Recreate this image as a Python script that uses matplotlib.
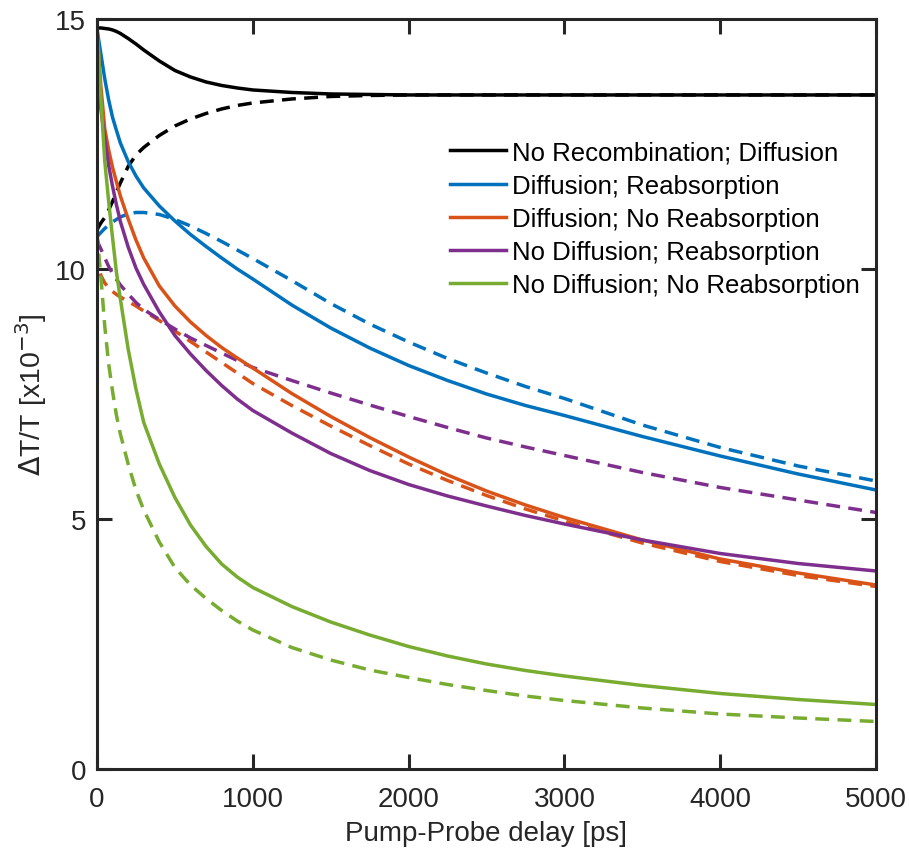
import matplotlib
matplotlib.use("Agg")
import matplotlib.pyplot as plt

plt.rcParams['font.family'] = ['Liberation Sans', 'DejaVu Sans']

# delay grid [ps]
t = [0, 10, 25, 50, 75, 100, 125, 150, 200, 250, 300, 400, 500, 600, 700, 800, 900, 1000,
     1250, 1500, 1750, 2000, 2250, 2500, 2750, 3000, 3500, 4000, 4500, 5000]

labels = ["No Recombination; Diffusion", "Diffusion; Reabsorption",
          "Diffusion; No Reabsorption", "No Diffusion; Reabsorption",
          "No Diffusion; No Reabsorption"]
colors = ["#000000", "#0072BD", "#D95319", "#7E2F8E", "#77AC30"]

# solid curves
black_solid = [14.82, 14.82, 14.82, 14.81, 14.8, 14.78, 14.75, 14.71, 14.61, 14.5, 14.38, 14.16,
               13.97, 13.84, 13.74, 13.67, 13.62, 13.58,
               13.53, 13.5, 13.49, 13.48, 13.48, 13.48, 13.48, 13.48, 13.48, 13.48, 13.48, 13.48]
blue_solid = [14.8, 14.6, 14.3, 13.8, 13.38, 13.03, 12.77, 12.52, 12.15, 11.86, 11.62, 11.26,
              10.96, 10.69, 10.45, 10.22, 10.0, 9.8,
              9.28, 8.82, 8.42, 8.07, 7.77, 7.5, 7.27, 7.07, 6.65, 6.26, 5.9, 5.58]
orange_solid = [14.8, 14.3, 13.65, 12.8, 12.38, 12.03, 11.74, 11.46, 11.0, 10.58, 10.22, 9.66,
                9.26, 8.94, 8.67, 8.43, 8.22, 8.02,
                7.51, 7.05, 6.63, 6.24, 5.88, 5.56, 5.28, 5.03, 4.58, 4.2, 3.92, 3.68]
purple_solid = [14.8, 14.1, 13.2, 12.6, 12.07, 11.65, 11.28, 10.95, 10.44, 10.02, 9.69, 9.14,
                8.67, 8.3, 7.97, 7.67, 7.4, 7.17,
                6.72, 6.31, 5.97, 5.69, 5.46, 5.26, 5.07, 4.9, 4.58, 4.31, 4.11, 3.96]
green_solid = [14.8, 14.35, 13.4, 12.15, 11.35, 10.62, 9.93, 9.4, 8.4, 7.6, 6.93, 6.1,
               5.43, 4.88, 4.45, 4.1, 3.84, 3.63,
               3.25, 2.94, 2.68, 2.45, 2.26, 2.1, 1.97, 1.86, 1.67, 1.51, 1.39, 1.29]

# dashed curves
black_dash = [10.78, 10.84, 10.92, 11.03, 11.18, 11.35, 11.54, 11.72, 12.05, 12.28, 12.43, 12.67,
              12.86, 13.0, 13.11, 13.2, 13.27, 13.32,
              13.4, 13.45, 13.47, 13.48, 13.48, 13.48, 13.48, 13.48, 13.48, 13.48, 13.48, 13.48]
blue_dash = [10.65, 10.68, 10.73, 10.81, 10.88, 10.94, 10.99, 11.04, 11.1, 11.13, 11.13, 11.09,
             10.99, 10.86, 10.71, 10.55, 10.38, 10.21,
             9.77, 9.31, 8.9, 8.54, 8.21, 7.92, 7.65, 7.41, 6.88, 6.43, 6.06, 5.76]
orange_dash = [10.35, 10.1, 9.87, 9.72, 9.62, 9.55, 9.49, 9.44, 9.35, 9.26, 9.16, 8.97,
               8.76, 8.55, 8.34, 8.13, 7.92, 7.71,
               7.27, 6.86, 6.47, 6.1, 5.77, 5.47, 5.2, 4.96, 4.52, 4.15, 3.87, 3.65]
purple_dash = [10.6, 10.5, 10.4, 10.22, 10.05, 9.91, 9.79, 9.68, 9.5, 9.33, 9.19, 8.99,
               8.8, 8.62, 8.47, 8.32, 8.17, 8.03,
               7.77, 7.52, 7.28, 7.05, 6.83, 6.62, 6.44, 6.27, 5.93, 5.63, 5.38, 5.13]
green_dash = [10.75, 10.35, 9.85, 8.85, 8.1, 7.55, 7.07, 6.7, 6.1, 5.58, 5.18, 4.54,
              4.03, 3.68, 3.41, 3.17, 2.96, 2.78,
              2.43, 2.18, 1.98, 1.83, 1.69, 1.57, 1.46, 1.37, 1.22, 1.1, 1.02, 0.95]

solids = [black_solid, blue_solid, orange_solid, purple_solid, green_solid]
dashes = [black_dash, blue_dash, orange_dash, purple_dash, green_dash]

fig = plt.figure(figsize=(9.09, 8.53), dpi=100)
ax = fig.add_axes([0.1067, 0.0973, 0.857, 0.8793])

lw = 2.5
for ys, c in zip(dashes, colors):
    ax.plot(t, ys, color=c, lw=lw, dashes=(4.0, 2.4), solid_joinstyle='round',
            dash_joinstyle='round')
for ys, c, lab in zip(solids, colors, labels):
    ax.plot(t, ys, color=c, lw=lw, label=lab, solid_joinstyle='round')

ax.set_xlim(0, 5000)
ax.set_ylim(0, 15)
ax.set_xticks([0, 1000, 2000, 3000, 4000, 5000])
ax.set_yticks([0, 5, 10, 15])
ax.tick_params(direction='in', length=11, width=2.2, top=True, right=True,
               labelsize=20, colors='#262626')
ax.tick_params(axis='x', pad=12)
ax.tick_params(axis='y', pad=8)
for s in ax.spines.values():
    s.set_linewidth(2.2)
    s.set_color('#262626')

ax.set_xlabel("Pump-Probe delay [ps]", fontsize=20, color='#262626', labelpad=6)
ax.set_ylabel(r"$\Delta$T/T [x10$^{-3}$]", fontsize=20.5, color='#262626', labelpad=4)

leg = ax.legend(loc='upper left', bbox_to_anchor=(0.453, 0.838), fontsize=18.5,
                frameon=False, handlelength=2.2, handletextpad=0.2, labelspacing=0.36,
                borderaxespad=0.0, borderpad=0.0)

fig.savefig("out.png", dpi=100)
